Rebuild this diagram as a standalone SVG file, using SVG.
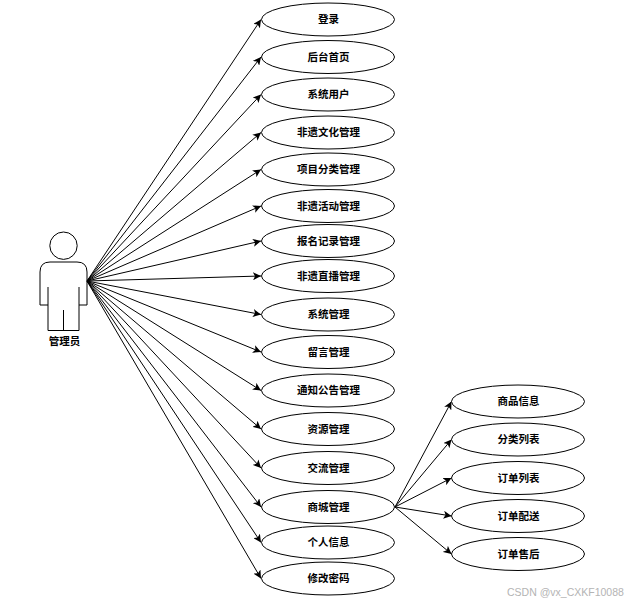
<svg xmlns="http://www.w3.org/2000/svg" width="632" height="603" viewBox="0 0 632 603">
<style>
.n ellipse{fill:#fff;stroke:#000;stroke-width:1}
text{font-family:"Noto Sans CJK SC","Liberation Sans",sans-serif;font-size:10.500px;font-weight:700;fill:#000;text-anchor:middle}
.n text{transform:translate(0.500px,-0.500px)}
.c line{stroke:#000;stroke-width:1;fill:none;marker-end:url(#a)}
.act{fill:none;stroke:#000;stroke-width:1}
.wm{font-family:"Liberation Sans",sans-serif;font-size:10.500px;font-weight:400;fill:#b4b4b4;text-anchor:start}
</style>
<defs><marker id="a" markerUnits="userSpaceOnUse" markerWidth="9" markerHeight="8" refX="8" refY="4" orient="auto"><path d="M0 0L8 4L0 8L2 4Z" fill="#000"/></marker></defs>
<rect width="632" height="603" fill="#fff"/>
<g id="connectors" class="c">
<line x1="87" y1="281" x2="261" y2="19.500"/>
<line x1="87" y1="281" x2="261" y2="57"/>
<line x1="87" y1="281" x2="261" y2="94.500"/>
<line x1="87" y1="281" x2="261" y2="132.500"/>
<line x1="87" y1="281" x2="261" y2="169.500"/>
<line x1="87" y1="281" x2="261" y2="206"/>
<line x1="87" y1="281" x2="261" y2="241"/>
<line x1="87" y1="281" x2="261" y2="276"/>
<line x1="87" y1="281" x2="261" y2="314.500"/>
<line x1="87" y1="281" x2="261" y2="352"/>
<line x1="87" y1="281" x2="261" y2="390.500"/>
<line x1="87" y1="281" x2="261" y2="429"/>
<line x1="87" y1="281" x2="261" y2="468"/>
<line x1="87" y1="281" x2="261" y2="507"/>
<line x1="87" y1="281" x2="261" y2="542.500"/>
<line x1="87" y1="281" x2="261" y2="578.500"/>
<line x1="395" y1="507" x2="451.500" y2="401.500"/>
<line x1="395" y1="507" x2="451.500" y2="439.500"/>
<line x1="395" y1="507" x2="451.500" y2="478"/>
<line x1="395" y1="507" x2="451.500" y2="516"/>
<line x1="395" y1="507" x2="451.500" y2="554"/>
</g>
<g id="actor">
<circle class="act" cx="63.500" cy="245.700" r="13.700"/>
<path class="act" d="M48 287V305H40V272Q40 262 50 262H77Q87 262 87 272V305H79V287M48 305V330.500H79V305M63.500 330.500V310"/>
<text x="64.500" y="345">管理员</text>
</g>
<g id="n1" class="n"><ellipse cx="328" cy="19.500" rx="66.500" ry="16.500"/><text x="328" y="23">登录</text></g>
<g id="n2" class="n"><ellipse cx="328" cy="57" rx="66.500" ry="16.500"/><text x="328" y="61">后台首页</text></g>
<g id="n3" class="n"><ellipse cx="328" cy="94.500" rx="66.500" ry="16.500"/><text x="328" y="98.500">系统用户</text></g>
<g id="n4" class="n"><ellipse cx="328" cy="132.500" rx="66.500" ry="16.500"/><text x="328" y="136.500">非遗文化管理</text></g>
<g id="n5" class="n"><ellipse cx="328" cy="169.500" rx="66.500" ry="16.500"/><text x="328" y="173.500">项目分类管理</text></g>
<g id="n6" class="n"><ellipse cx="328" cy="206" rx="66.500" ry="16.500"/><text x="328" y="210">非遗活动管理</text></g>
<g id="n7" class="n"><ellipse cx="328" cy="241" rx="66.500" ry="16.500"/><text x="328" y="245">报名记录管理</text></g>
<g id="n8" class="n"><ellipse cx="328" cy="276" rx="66.500" ry="16.500"/><text x="328" y="280">非遗直播管理</text></g>
<g id="n9" class="n"><ellipse cx="328" cy="314.500" rx="66.500" ry="16.500"/><text x="328" y="318.500">系统管理</text></g>
<g id="n10" class="n"><ellipse cx="328" cy="352" rx="66.500" ry="16.500"/><text x="328" y="356">留言管理</text></g>
<g id="n11" class="n"><ellipse cx="328" cy="390.500" rx="66.500" ry="16.500"/><text x="328" y="394.500">通知公告管理</text></g>
<g id="n12" class="n"><ellipse cx="328" cy="429" rx="66.500" ry="16.500"/><text x="328" y="433">资源管理</text></g>
<g id="n13" class="n"><ellipse cx="328" cy="468" rx="66.500" ry="16.500"/><text x="328" y="472">交流管理</text></g>
<g id="n14" class="n"><ellipse cx="328" cy="507" rx="66.500" ry="16.500"/><text x="328" y="511">商城管理</text></g>
<g id="n15" class="n"><ellipse cx="328" cy="542.500" rx="66.500" ry="16.500"/><text x="328" y="546">个人信息</text></g>
<g id="n16" class="n"><ellipse cx="328" cy="578.500" rx="66.500" ry="16.500"/><text x="328" y="582">修改密码</text></g>
<g id="m1" class="n"><ellipse cx="518" cy="401.500" rx="66.500" ry="16.500"/><text x="518" y="405.500">商品信息</text></g>
<g id="m2" class="n"><ellipse cx="518" cy="439.500" rx="66.500" ry="16.500"/><text x="518" y="443.500">分类列表</text></g>
<g id="m3" class="n"><ellipse cx="518" cy="478" rx="66.500" ry="16.500"/><text x="518" y="482">订单列表</text></g>
<g id="m4" class="n"><ellipse cx="518" cy="516" rx="66.500" ry="16.500"/><text x="518" y="520">订单配送</text></g>
<g id="m5" class="n"><ellipse cx="518" cy="554" rx="66.500" ry="16.500"/><text x="518" y="558">订单售后</text></g>
<text class="wm" x="507" y="595.500">CSDN @vx_CXKF10088</text>
</svg>
